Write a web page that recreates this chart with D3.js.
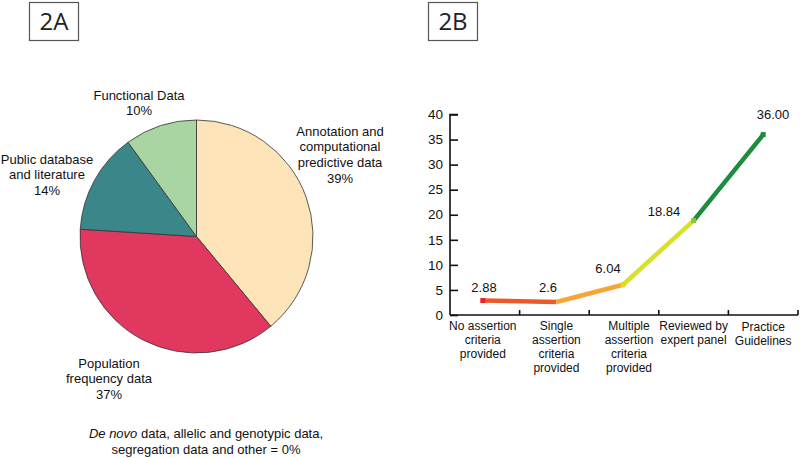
<!DOCTYPE html>
<html><head><meta charset="utf-8">
<script src="https://cdn.jsdelivr.net/npm/d3@7"></script>
<style>body{margin:0;background:#fff}svg{display:block;font-family:"Liberation Sans",Arial,sans-serif}</style>
</head><body><svg id="c" width="800" height="458"></svg>
<script>
// Panel A: pie
const pieLabels = [["Annotation and","computational","predictive data","39%"],["Population","frequency data","37%"],["Public database","and literature","14%"],["Functional Data","10%"]];
const pieValues = [39, 37, 14, 10];
const pieColors = ["#fce4b8", "#e0385f", "#3b8689", "#a8d5a2"];
// Panel B: line
const lineCategories = [["No assertion","criteria","provided"],["Single","assertion","criteria","provided"],["Multiple","assertion","criteria","provided"],["Reviewed by","expert panel"],["Practice","Guidelines"]];
const lineValues = [2.88, 2.6, 6.04, 18.84, 36.0];
const lineValueLabels = ["2.88", "2.6", "6.04", "18.84", "36.00"];
const segColors = ["#ec5a2a", "#f7a534", "#d7e02a", "#1b8d3d"];
const pointColors = ["#e8212a", "#f7a534", "#e0d82a", "#8cc63f", "#1b8d3d"];
const yTicks = [0, 5, 10, 15, 20, 25, 30, 35, 40];

const svg = d3.select("#c");

function panelBox(x, label) {
  svg.append("rect").attr("x", x + 0.5).attr("y", 2.5).attr("width", 49).attr("height", 38)
    .attr("fill", "none").attr("stroke", "#555").attr("stroke-width", 1.2);
  svg.append("text").attr("x", x + 25).attr("y", 30).attr("text-anchor", "middle")
    .attr("font-family", "'Open Sans',sans-serif").attr("font-size", 24).attr("fill", "#222").text(label);
}
panelBox(29, "2A");
panelBox(428, "2B");

// Pie
const cx = 196.5, cy = 236.5, R = 116.5;
const pie = d3.pie().sort(null).value(d => d)(pieValues);
const arc = d3.arc().innerRadius(0).outerRadius(R);
const gPie = svg.append("g").attr("transform", `translate(${cx},${cy})`);
gPie.selectAll("path").data(pie).join("path").attr("d", arc)
  .attr("fill", (d, i) => pieColors[i]).attr("stroke", "#333").attr("stroke-width", 0.8);

const labelPos = [[340, 131], [109, 363], [47, 159], [139, 95]];
pieLabels.forEach((lines, i) => {
  const t = svg.append("text").attr("text-anchor", "middle").attr("font-size", 13).attr("fill", "#111");
  lines.forEach((l, j) => t.append("tspan").attr("x", labelPos[i][0]).attr("y", labelPos[i][1] + j * 15.8).attr("dy", "0.35em").text(l));
});
const foot = svg.append("text").attr("text-anchor", "middle").attr("font-size", 13).attr("fill", "#111");
const f1 = foot.append("tspan").attr("x", 206).attr("y", 433).attr("dy", "0.35em");
f1.append("tspan").attr("font-style", "italic").text("De novo");
f1.append("tspan").text(" data, allelic and genotypic data,");
foot.append("tspan").attr("x", 206).attr("y", 449).attr("dy", "0.35em").text("segregation data and other = 0%");

// Line chart
const x = d3.scaleBand().domain(d3.range(lineCategories.length)).range([450, 798]).paddingInner(0).paddingOuter(0);
const y = d3.scaleLinear().domain([0, 40]).range([315, 114.5]);

const gy = svg.append("g").attr("transform", "translate(450,0)")
  .call(d3.axisRight(y).tickValues(yTicks).tickSize(8).tickFormat(""));
gy.select(".domain").attr("stroke", "#111").attr("stroke-width", 1.6).attr("d", `M8,${y(40)}H0V${y(0)}`);
gy.selectAll(".tick line").attr("stroke", "#111").attr("stroke-width", 1.6);
svg.append("g").selectAll("text").data(yTicks).join("text")
  .attr("x", 443).attr("y", d => y(d)).attr("dy", "0.35em").attr("text-anchor", "end")
  .attr("font-size", 13.5).attr("fill", "#111").text(d => d);

const xBounds = d3.range(1, lineCategories.length + 1).map(i => 450 + i * x.bandwidth());
const gx = svg.append("g");
gx.append("line").attr("x1", 450).attr("x2", 798).attr("y1", y(0)).attr("y2", y(0)).attr("stroke", "#111").attr("stroke-width", 1.6);
gx.selectAll("line.t").data(xBounds).join("line").attr("class", "t")
  .attr("x1", d => d).attr("x2", d => d).attr("y1", y(0)).attr("y2", y(0) - 5).attr("stroke", "#111").attr("stroke-width", 1.6);

const labelY = [326, 326, 326, 326, 327];
lineCategories.forEach((lines, i) => {
  const t = svg.append("text").attr("text-anchor", "middle").attr("font-size", 12).attr("fill", "#111");
  const xc = x(i) + x.bandwidth() / 2 + [-2, 2, 5, 0, 0][i];
  lines.forEach((l, j) => t.append("tspan").attr("x", xc).attr("y", labelY[i] + j * 13.8).attr("dy", "0.35em").text(l));
});

const px = i => x(i) + x.bandwidth() / 2 + [-2, 2, -1, 0, 0][i];
for (let i = 0; i < lineValues.length - 1; i++) {
  svg.append("line").attr("x1", px(i)).attr("y1", y(lineValues[i])).attr("x2", px(i + 1)).attr("y2", y(lineValues[i + 1]))
    .attr("stroke", segColors[i]).attr("stroke-width", 4.5);
}
svg.selectAll("rect.pt").data(lineValues).join("rect").attr("class", "pt")
  .attr("x", (d, i) => px(i) - 2.5).attr("y", d => y(d) - 2.5).attr("width", 5).attr("height", 5)
  .attr("fill", (d, i) => pointColors[i]).attr("opacity", (d, i) => i === 1 ? 0 : 1);

const valPos = [[484, 287], [548, 287], [608, 268], [664, 211], [773, 114]];
svg.selectAll("text.val").data(lineValueLabels).join("text").attr("class", "val")
  .attr("x", (d, i) => valPos[i][0]).attr("y", (d, i) => valPos[i][1]).attr("dy", "0.35em")
  .attr("text-anchor", "middle").attr("font-size", 13).attr("fill", "#111").text(d => d);
</script></body></html>
